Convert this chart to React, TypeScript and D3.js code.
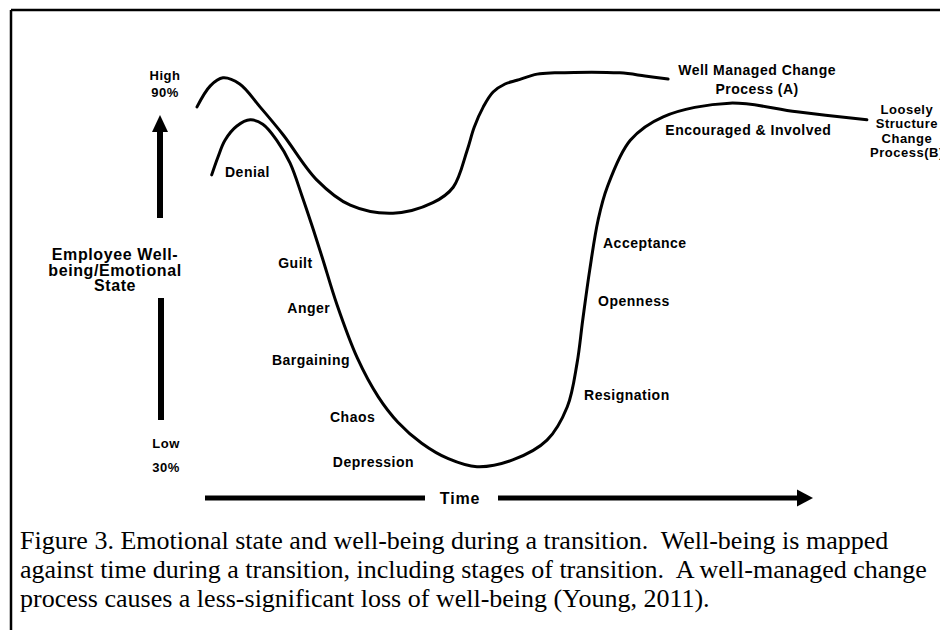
import * as d3 from "d3";

// curve points: [time (0-100), well-being %]
const managedCurve: [number, number][] = [
  [1.0, 86.3], [2.9, 89.7], [4.7, 91.0], [7.1, 90.0], [10.0, 86.3], [13.3, 81.8],
  [18.1, 74.5], [22.9, 70.4], [29.0, 69.1], [34.7, 70.8], [37.6, 73.3], [39.6, 79.3],
  [40.6, 83.0], [41.9, 86.3], [43.3, 88.7], [45.0, 90.0], [46.7, 90.6], [49.6, 91.6],
  [52.1, 91.8], [61.4, 91.8], [65.0, 91.3], [68.3, 90.8],
];

const looseCurve: [number, number][] = [
  [3.1, 75.3], [4.0, 78.2], [5.0, 80.9], [6.7, 83.2], [8.6, 84.2], [10.4, 83.5],
  [12.4, 80.9], [14.3, 77.2], [16.0, 71.9], [17.4, 67.2], [18.9, 61.9], [21.0, 54.3],
  [23.9, 45.7], [26.9, 39.4], [29.7, 35.3], [33.1, 31.9], [36.9, 29.4], [41.0, 28.1],
  [46.1, 29.2], [51.0, 32.4], [53.9, 37.8], [55.3, 44.9], [56.1, 51.8], [57.1, 59.9],
  [58.3, 68.0], [59.6, 73.3], [62.9, 80.9], [67.6, 84.7], [77.1, 86.9], [86.7, 85.5],
  [96.7, 84.2],
];

const stageNames = [
  "Denial", "Guilt", "Anger", "Bargaining", "Chaos", "Depression",
  "Resignation", "Openness", "Acceptance", "Encouraged & Involved",
];
// where each stage label sits, in the same time / well-being units
const stageAnchors: [number, number][] = [
  [5.0, 75.8], [12.6, 61.1], [13.9, 53.8], [11.7, 45.4], [20.0, 36.1], [20.4, 28.9],
  [56.3, 39.7], [58.3, 54.9], [59.0, 64.3], [67.9, 82.6],
];

const managedLabel = ["Well Managed Change", "Process (A)"];
const looseLabel = ["Loosely", "Structure", "Change", "Process(B)"];
const highLabel = ["High", "90%"];
const lowLabel = ["Low", "30%"];
const axisTitle = ["Employee Well-", "being/Emotional", "State"];
const timeLabel = "Time";

const caption = [
  "Figure 3. Emotional state and well-being during a transition.  Well-being is mapped",
  "against time during a transition, including stages of transition.  A well-managed change",
  "process causes a less-significant loss of well-being (Young, 2011).",
];

const W = 947, H = 630;
const SANS = "'Liberation Sans', Arial, sans-serif";
const SERIF = "'Liberation Serif', 'Times New Roman', serif";

export default function App() {
  const x = d3.scaleLinear().domain([0, 100]).range([190, 890]);
  const y = d3.scaleLinear().domain([30, 90]).range([455, 84]);

  const line = d3.line<[number, number]>()
    .x((d) => x(d[0]))
    .y((d) => y(d[1]))
    .curve(d3.curveCatmullRom.alpha(0.5));

  const lbl = { fontFamily: SANS, fontWeight: 700, fontSize: 14, letterSpacing: 0.5, fill: "#000" } as const;

  const endA = managedCurve[managedCurve.length - 1];
  const endB = looseCurve[looseCurve.length - 1];

  return (
    <svg width={W} height={H} style={{ position: "absolute", left: 0, top: 0, background: "#fff" }}>
      <defs>
        <clipPath id="chartClip">
          <rect x={0} y={0} width={940} height={H} />
        </clipPath>
      </defs>

      {/* frame */}
      <line x1={11} x2={940} y1={10} y2={10} stroke="#000" strokeWidth={2.5} />
      <line x1={11} x2={11} y1={10} y2={H} stroke="#000" strokeWidth={2.5} />

      <g clipPath="url(#chartClip)">
        {/* vertical arrow */}
        <path d={`M160,${y(90) + 31} L152,${y(90) + 48} L168,${y(90) + 48} Z`} fill="#000" />
        <rect x={157} y={y(90) + 47} width={6} height={87} fill="#000" />
        <rect x={158} y={298} width={6} height={122} fill="#000" />

        {highLabel.map((t, i) => (
          <text key={t} x={165} y={80 + i * 17} textAnchor="middle" {...lbl} fontSize={13}>{t}</text>
        ))}
        {lowLabel.map((t, i) => (
          <text key={t} x={166} y={448 + i * 24} textAnchor="middle" {...lbl} fontSize={13}>{t}</text>
        ))}
        {axisTitle.map((t, i) => (
          <text key={t} x={115} y={260 + i * 15.5} textAnchor="middle" {...lbl} fontSize={16} letterSpacing={0.6}>{t}</text>
        ))}

        {/* curves */}
        <path d={line(managedCurve) ?? ""} fill="none" stroke="#000" strokeWidth={3} strokeLinecap="round" />
        <path d={line(looseCurve) ?? ""} fill="none" stroke="#000" strokeWidth={3} strokeLinecap="round" />

        {stageNames.map((t, i) => (
          <text key={t} x={x(stageAnchors[i][0])} y={y(stageAnchors[i][1]) + 5} {...lbl}>{t}</text>
        ))}

        {managedLabel.map((t, i) => (
          <text key={t} x={x(endA[0]) + 89} y={y(endA[1]) - 4 + i * 19} textAnchor="middle" {...lbl}>{t}</text>
        ))}
        {looseLabel.map((t, i) => (
          <text key={t} x={x(endB[0]) + 40} y={y(endB[1]) - 6 + i * 14.5} textAnchor="middle" {...lbl} fontSize={13}>{t}</text>
        ))}

        {/* time arrow */}
        <rect x={205} y={495.5} width={220} height={5} fill="#000" />
        <text x={460} y={504} textAnchor="middle" {...lbl} fontSize={16} letterSpacing={0.8}>{timeLabel}</text>
        <rect x={498} y={495.5} width={301} height={5} fill="#000" />
        <path d="M797,489.5 L813,498 L797,506.5 Z" fill="#000" />
      </g>

      {caption.map((t, i) => (
        <text key={i} x={20} y={549 + i * 29} fontFamily={SERIF} fontSize={26} fill="#000"
          style={{ whiteSpace: "pre" }}>{t}</text>
      ))}
    </svg>
  );
}
